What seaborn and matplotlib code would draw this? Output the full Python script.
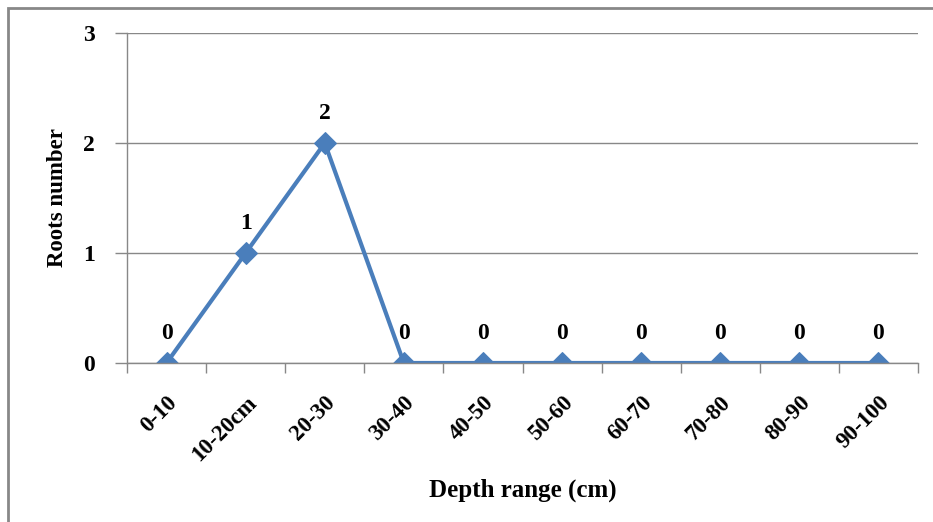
import matplotlib
matplotlib.use("Agg")
import matplotlib.pyplot as plt
import seaborn as sns
import pandas as pd
import numpy as np
from matplotlib.patches import Rectangle

categories = ["0-10", "10-20cm", "20-30", "30-40", "40-50", "50-60", "60-70", "70-80", "80-90", "90-100"]
roots = [0, 1, 2, 0, 0, 0, 0, 0, 0, 0]
yticks = [0, 1, 2, 3]

sns.set_theme(style="white")
plt.rcParams['font.family'] = ['Liberation Serif', 'DejaVu Serif']
plt.rcParams['font.weight'] = 'bold'
plt.rcParams['text.color'] = 'black'
plt.rcParams['axes.labelcolor'] = 'black'
plt.rcParams['xtick.labelcolor'] = 'black'
plt.rcParams['ytick.labelcolor'] = 'black'

df = pd.DataFrame({"pos": np.arange(len(categories)), "roots": roots})

fig = plt.figure(figsize=(9.33, 5.22), dpi=100)
ax = fig.add_axes([127/933, 1-363/522, (918-127)/933, (363-33)/522])

sns.lineplot(data=df, x="pos", y="roots", ax=ax, color="#4A7EBB", linewidth=3,
             marker="D", markersize=11, markeredgecolor="#4A7EBB", legend=False)

for x, y in zip(df["pos"], df["roots"]):
    ax.annotate(str(y), (x, y), xytext=(0, 21), textcoords="offset points",
                ha="center", va="center", fontsize=17, fontweight="bold", color="black")

ax.set_xlim(-0.5, len(categories) - 0.5)
ax.set_ylim(0, 3)
ax.set_yticks(yticks)
ax.set_yticklabels([str(t) for t in yticks], fontsize=17, fontweight="bold")
ax.set_xticks(np.arange(len(categories)))
ax.set_xticklabels(categories, rotation=45, ha="right", rotation_mode="anchor",
                   fontsize=16.5, fontweight="bold")
ax.set_xticks(np.arange(-0.5, len(categories)), minor=True)
ax.tick_params(axis="x", which="major", length=0, pad=21, labelcolor="black")
ax.tick_params(axis="x", which="minor", length=7, color="#888888", width=1, direction="out", bottom=True)
ax.tick_params(axis="y", length=9, color="#888888", width=1, direction="out", left=True, pad=14, labelcolor="black")

ax.grid(axis="y", color="#888888", linewidth=1)
ax.set_axisbelow(True)
for s in ["top", "right"]:
    ax.spines[s].set_visible(False)
for s in ["left", "bottom"]:
    ax.spines[s].set_color("#888888")
    ax.spines[s].set_linewidth(1)

ax.set_xlabel("Depth range (cm)", fontsize=18, fontweight="bold", color="black")
ax.set_ylabel("Roots number", fontsize=16.5, fontweight="bold", color="black")
ax.xaxis.set_label_coords((522.5-127)/(918-127), -(490-363)/(363-33))
ax.yaxis.set_label_coords(-(127-58)/(918-127), (363-198)/(363-33))
ax.xaxis.label.set_va("center")
ax.yaxis.label.set_va("center")

fig.patches.append(Rectangle((8/933, -0.1), 1.2, 1-8/522+0.1, transform=fig.transFigure,
                             fill=False, edgecolor="#888888", linewidth=2))

fig.savefig("out.png", dpi=100)
